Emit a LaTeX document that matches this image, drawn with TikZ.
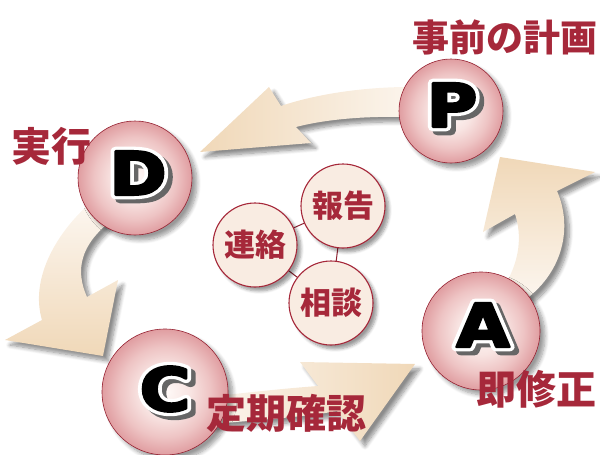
\documentclass[tikz,border=0pt]{standalone}
\usepackage{fontspec}
\newfontfamily\cjk{Noto Sans CJK JP}
\newfontfamily\letf{DejaVu Sans}
\usetikzlibrary{calc,shadows.blur}
\definecolor{lbl}{RGB}{166,40,58}
\definecolor{beigeD}{RGB}{240,216,184}
\definecolor{beigeL}{RGB}{252,246,239}
\definecolor{smallfill}{RGB}{249,236,226}
\definecolor{ringdark}{RGB}{150,34,50}
\pgfdeclareradialshading{ballshade}{\pgfpoint{0bp}{0bp}}{%
  color(0bp)=(rgb,255:red,255;green,250;blue,248);
  color(10bp)=(rgb,255:red,248;green,228;blue,226);
  color(18bp)=(rgb,255:red,238;green,196;blue,196);
  color(26bp)=(rgb,255:red,222;green,152;blue,156);
  color(34bp)=(rgb,255:red,202;green,108;blue,118);
  color(42bp)=(rgb,255:red,180;green,68;blue,84);
  color(50bp)=(rgb,255:red,158;green,42;blue,60)}
\newcommand\strokedtext[3]{\special{pdf:literal direct 1 j 1 J #1 w #2 RG 2 Tr}#3\special{pdf:literal direct 0 Tr}}
\tikzset{
  arrowshape/.style={blur shadow={shadow xshift=5pt, shadow yshift=-5pt, shadow blur radius=4pt, shadow opacity=45, shadow blur steps=8}},
  bigball/.style={circle, inner sep=0pt, shading=ballshade, draw=ringdark, line width=0.6pt,
    blur shadow={shadow xshift=5pt, shadow yshift=-5pt, shadow blur radius=4pt, shadow opacity=40, shadow blur steps=8}},
  smallball/.style={circle, inner sep=0pt, minimum size=84pt, fill=smallfill, draw=lbl, line width=1.1pt,
    text=lbl, font=\cjk\bfseries\fontsize{31}{33}\selectfont,
    blur shadow={shadow xshift=4pt, shadow yshift=-4pt, shadow blur radius=3pt, shadow opacity=40, shadow blur steps=6}},
  linkline/.style={draw=lbl!85!black, line width=1pt},
  biglabel/.style={text=lbl, inner sep=0pt, font=\cjk\bfseries\fontsize{40}{42}\selectfont},
  letterstyle/.style={inner sep=0pt, xscale=1.15, text=black, font=\letf\bfseries\fontsize{60}{62}\selectfont}
}
\newcommand\bigletter[4]{%
  \node[letterstyle] (#1) at (#2,#3) {%
    \rlap{\kern4pt\raisebox{-4pt}{\color{black!60}\strokedtext{9}{0.4 0.4 0.4}{#4}}}%
    \rlap{\color{white}\strokedtext{9}{1 1 1}{#4}}%
    \strokedtext{2.4}{0 0 0}{#4}};
}
\begin{document}
\begin{tikzpicture}[x=1pt,y=-1pt]
\useasboundingbox (0,0) rectangle (600,455);
\clip (0,0) rectangle (600,455);
% arrows
% P -> D
\path[arrowshape, left color=beigeD, right color=beigeL]
  (420,87) .. controls (360,86) and (310,96) .. (281,106) -- (269,87) -- (200,152)
  -- (311,143) -- (296,127) .. controls (330,118) and (380,115) .. (420,118) -- cycle;
% D -> C
\path[arrowshape, top color=beigeL, bottom color=beigeD]
  (88,205) .. controls (55,235) and (30,280) .. (42,320) -- (5,340) -- (103,356)
  -- (118,280) -- (87,297) .. controls (75,270) and (80,245) .. (112,220) -- cycle;
% C -> A
\path[arrowshape, left color=beigeL, right color=beigeD]
  (200,398) .. controls (250,392) and (290,388) .. (318,386) -- (300,362) -- (415,364)
  -- (360,441) -- (337,411) .. controls (300,418) and (250,420) .. (205,425) -- cycle;
% A -> P
\path[arrowshape, top color=beigeD, bottom color=beigeL]
  (505,285) .. controls (520,260) and (522,235) .. (515,214) -- (483,232) -- (500,157)
  -- (595,172) -- (557,191) .. controls (572,225) and (565,270) .. (525,300) -- cycle;
% big balls
\node[bigball, minimum size=104pt] (P) at (451,111) {};
\node[bigball, minimum size=114pt] (D) at (135,178) {};
\node[bigball, minimum size=126pt] (C) at (165,392) {};
\node[bigball, minimum size=118pt] (A) at (481,331) {};
% small circles
\coordinate (hc) at (343,206);
\coordinate (rc) at (255,245);
\coordinate (sc) at (331,303);
\draw[linkline] (rc) -- (hc);
\draw[linkline] (hc) -- (sc);
\draw[linkline] (rc) -- (sc);
\node[smallball] (hou) at (hc) {報告};
\node[smallball] (ren) at (rc) {連絡};
\node[smallball] (sou) at (sc) {相談};
% letters
\bigletter{Pl}{452}{107}{P}
\bigletter{Dl}{138}{175}{D}
\bigletter{Cl}{165}{391}{C}
\bigletter{Al}{483}{327}{A}
% labels
\node[biglabel, font=\cjk\bfseries\fontsize{37}{40}\selectfont] (lp) at (505,37) {事前の計画};
\node[biglabel] (ld) at (52,146) {実行};
\node[biglabel] (lc) at (286,413) {定期確認};
\node[biglabel] (la) at (536,389) {即修正};
\end{tikzpicture}
\end{document}
